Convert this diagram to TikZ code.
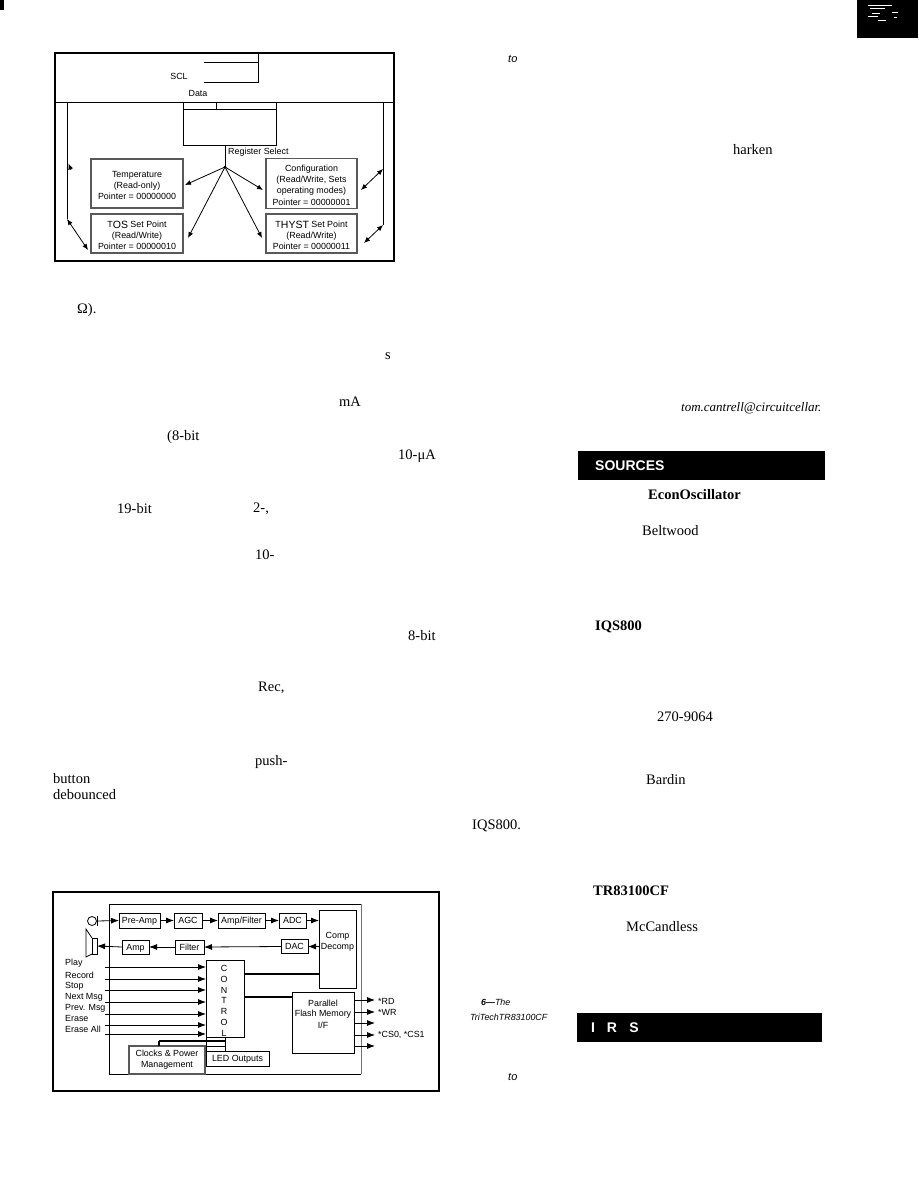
\documentclass[tikz,border=0pt]{standalone}
\usepackage{fontspec}
\setmainfont{Liberation Serif}
\setsansfont{Liberation Sans}
\usetikzlibrary{arrows.meta}
\newcommand{\sub}[1]{\raisebox{-1.5pt}{\fontsize{10.5}{11}\selectfont #1}}
\newcommand{\tb}[1]{\begin{tabular}{@{}c@{}}#1\end{tabular}}
\newcommand{\tbs}[1]{\begin{tabular}{@{}c@{}}\rule{0pt}{13pt}#1\end{tabular}}
\tikzset{
  x=1pt,y=-1pt,
  wire/.style={line width=0.8pt,black},
  thick wire/.style={line width=1.5pt,black},
  arr/.style={wire,-{Latex[length=6pt,width=5pt]}},
  arrfat/.style={wire,-{Latex[length=8pt,width=6pt]}},
  darr/.style={wire,{Latex[length=6pt,width=5pt]}-{Latex[length=6pt,width=5pt]}},
  frame/.style={draw,line width=2.8pt,black},
  lbl/.style={font=\sffamily\fontsize{8.9}{11.3}\selectfont,inner sep=0pt},
  lbll/.style={lbl,anchor=west},
  pbox/.style={lbl,draw=black,line width=1pt,inner sep=0pt,outer sep=0pt,text height=6.4pt,text depth=0.4pt},
  greybox/.style={lbl,draw=black!65,line width=1.1pt,inner sep=0pt,outer sep=0pt},
  body/.style={font=\fontsize{14.5}{15}\selectfont,inner sep=0pt,anchor=west},
  bodyb/.style={font=\bfseries\fontsize{14.5}{15}\selectfont,inner sep=0pt,anchor=west},
  capt/.style={font=\sffamily\itshape\fontsize{8.9}{11}\selectfont,inner sep=0pt,anchor=west},
  bar/.style={fill=black,draw=none},
  barlbl/.style={font=\sffamily\bfseries\fontsize{14}{15}\selectfont,text=white,inner sep=0pt},
}
\begin{document}
\begin{tikzpicture}
\useasboundingbox[fill=white] (0,0) rectangle (918,1188);
% page marks
\fill[black] (0,0) rectangle (4,10);
\fill[black] (857,0) rectangle (918,38);
\draw[white,line width=0.7pt] (868,5) -- (892,5);
\draw[white,line width=0.7pt] (870,8) -- (885,8);
\draw[white,line width=0.6pt] (872,13) -- (880,13);
\draw[white,line width=0.6pt] (892,12) -- (898,12);
\draw[white,line width=0.6pt] (868,16) -- (878,16);
\draw[white,line width=0.8pt] (894,17) -- (897,17);
\draw[white,line width=0.5pt] (878,20) -- (886,20);

%%%% Figure 5
\draw[frame] (55,53) rectangle (394,261);
\coordinate (sclTop) at (258,53);
\coordinate (sclA) at (204,62);
\coordinate (sclB) at (204,82.5);
\coordinate (sclEnd) at (258,82.5);
\draw[wire] (sclTop) -- (sclEnd) -- (sclB);
\draw[wire] (sclA) -- (sclA -| sclTop);
\node[lbl] (scl) at (179,76) {SCL};
\node[lbl] (data) at (198,93) {Data};
\coordinate (busL) at (55,102);
\coordinate (busR) at (394,102);
\draw[wire] (busL) -- (busR);
\node[draw=black,line width=0.8pt,minimum width=93pt,minimum height=43pt,inner sep=0pt,outer sep=0pt] (ptr) at (229.5,123.5) {};
\coordinate (ptrL) at (183,109);
\coordinate (ptrR) at (276,109);
\draw[wire] (ptrL) -- (ptrR);
\coordinate (tickT) at (216,102);
\draw[wire] (tickT) -- (tickT |- ptrL);
\coordinate (hub) at (225,167);
\draw[wire] (hub |- ptr.south) -- (hub);
\fill (hub) circle (1.5pt);
\node[lbll] (regsel) at (228,152) {Register Select};
\node[greybox,minimum width=92pt,minimum height=49pt] (temp) at (137,183.5) {\tbs{Temperature\\(Read-only)\\Pointer = 00000000}};
\node[greybox,minimum width=91pt,minimum height=47pt] (conf) at (311.5,183.5) {\tbs{Configuration\\(Read/Write, Sets\\operating modes)\\Pointer = 00000001}};
\node[greybox,minimum width=92pt,minimum height=37pt] (tos) at (137,233.5) {\tbs{T\sub{OS} Set Point\\(Read/Write)\\Pointer = 00000010}};
\node[greybox,minimum width=91pt,minimum height=37pt] (thyst) at (311.5,233.5) {\tbs{T\sub{HYST} Set Point\\(Read/Write)\\Pointer = 00000011}};
\draw[arr] (hub) -- (185,185);
\draw[arr] (hub) -- (188,238);
\draw[arr] (hub) -- (263,190);
\draw[arr] (hub) -- (262,238);
% side buses
\coordinate (lbus) at (67,102);
\coordinate (lbusE) at (67,219);
\coordinate (rbus) at (383,102);
\coordinate (rbusA) at (383,169);
\coordinate (rbusE) at (383,225);
\draw[wire] (lbus) -- (lbusE);
\draw[wire] (rbus) -- (rbusE);
\draw[darr] (lbusE) -- (88,250);
\draw[arr] (71,170) -- (68.5,163.5);
\draw[darr] (rbusA) -- (361,190);
\draw[darr] (rbusE) -- (364,243);

%%%% Figure 6
\draw[frame] (53,892) rectangle (439,1091);
\coordinate (fTL) at (109,904);
\coordinate (fTR) at (361,904);
\coordinate (fBL) at (109,1074);
\coordinate (fBR) at (361,1074);
\draw[wire] (fTL) -- (fTR);
\draw[wire] (fBL) -- (fBR);
\draw[wire] (fTL) -- (fBL);
\draw[wire,black!55] (fTR) -- (fBR);
% mic
\node[circle,draw=black,line width=0.8pt,minimum size=9pt,inner sep=0pt,outer sep=0pt] (mic) at (92,921) {};
\coordinate (micbarT) at (97,916);
\coordinate (micbarB) at (97,926);
\draw[wire] (mic.east) -- (97,921);
\draw[wire] (micbarT) -- (micbarB);
% speaker
\node[draw=black,line width=0.8pt,minimum width=5pt,minimum height=16pt,inner sep=0pt,outer sep=0pt] (spk) at (94.5,946) {};
\draw[wire] (spk.north west) -- (86,929) -- (86,957) -- (spk.south west);
% top row
\node[pbox,minimum width=41pt,minimum height=15pt] (pre) at (139.5,920.5) {Pre-Amp};
\node[pbox,minimum width=28pt,minimum height=15pt] (agc) at (188,920.5) {AGC};
\node[pbox,minimum width=47pt,minimum height=15pt] (ampf) at (241.5,920.5) {Amp/Filter};
\node[pbox,minimum width=27pt,minimum height=15pt] (adc) at (292.5,920.5) {ADC};
\node[pbox,minimum width=37pt,minimum height=78pt] (comp) at (337.5,949) {};
\node[lbl] (comptxt) at (337.5,941.5) {\tb{Comp\\Decomp}};
\draw[arrfat] (97,921) -- (pre.west);
\draw[arrfat] (pre.east) -- (agc.west);
\draw[arrfat] (agc.east) -- (ampf.west);
\draw[arrfat] (ampf.east) -- (adc.west);
\draw[arrfat] (adc.east) -- (adc.east -| comp.west);
% second row
\node[pbox,minimum width=27pt,minimum height=14pt] (amp) at (135.5,947) {Amp};
\node[pbox,minimum width=29pt,minimum height=14pt] (filt) at (189.5,947) {Filter};
\node[pbox,minimum width=27pt,minimum height=14pt] (dac) at (294.5,946.5) {DAC};
\draw[arrfat] (amp.west) -- (spk.east);
\draw[arrfat] (filt.west) -- (amp.east);
\draw[arrfat] (dac.west) -- (filt.east);
\draw[arrfat] (dac.east -| comp.west) -- (dac.east);
% control
\node[draw=black,line width=1pt,minimum width=38pt,minimum height=77pt,inner sep=0pt,outer sep=0pt] (ctl) at (225,998.5) {};
\foreach \nm/\ch/\yy in {c1/C/968,c2/O/979,c3/N/990,c4/T/1000,c5/R/1011,c6/O/1022,c7/L/1033}{
  \node[lbl] (\nm) at (224,\yy) {\ch};
}
% inputs
\foreach \nm/\tx/\ly/\ay in {play/Play/963/967,rec/Record/975/979,stp/Stop/986/990,nxt/Next Msg/997/1002,prv/Prev. Msg/1008/1014,ers/Erase/1018/1025,era/Erase All/1029/1034}{
  \node[lbll] (\nm) at (65,\ly) {\tx};
  \coordinate (\nm s) at (105,\ay);
  \draw[arrfat] (\nm s) -- (\nm s -| ctl.west);
}
% clocks, LED
\node[greybox,minimum width=76pt,minimum height=28pt] (clk) at (167,1060) {\tb{Clocks \& Power\\Management}};
\node[pbox,minimum width=63pt,minimum height=15pt] (led) at (237.5,1058.5) {LED Outputs};
\coordinate (clkA) at (159,1041);
\coordinate (clkB) at (225,1041);
\draw[thick wire] (clkA) -- (clkB);
\draw[thick wire] (clkA) -- (clkA |- clk.north);
\draw[wire] (ctl.south) -- (ctl.south |- led.north);
\draw[wire] (206,1037) -- (206,1051);
\draw[wire] (clkB) -- (clkB |- clk.north) -- (206,1046);
% parallel
\node[pbox,minimum width=62pt,minimum height=61pt] (par) at (323,1022.5) {};
\node[lbl] (partxt) at (323,1003) {Parallel};
\node[lbl] (flash) at (323,1014) {Flash Memory};
\node[lbl] (iface) at (323,1025) {I/F};
\coordinate (lineA) at (244,974);
\coordinate (lineB) at (244,997);
\draw[thick wire] (lineA) -- (lineA -| comp.west);
\draw[thick wire] (lineB) -- (lineB -| par.west);
% outputs
\foreach \nm/\ay in {oa/1000,ob/1012,oc/1023,od/1035,oe/1046}{
  \coordinate (\nm) at (354,\ay);
  \draw[arrfat] (\nm) -- ++(21,0);
}
\node[lbll] (rd) at (378,1001) {*RD};
\node[lbll] (wr) at (378,1012) {*WR};
\node[lbll] (cs) at (378,1035) {*CS0, *CS1};

%%%% stray text of the page
\node[capt,font=\sffamily\itshape\fontsize{11}{13}\selectfont] (t1) at (508,59) {to};
\node[body] (t2) at (733,150) {harken};
\node[body] (t3) at (77,310) {Ω).};
\node[body] (t4) at (385,356) {s};
\node[body,font=\itshape\fontsize{13}{15}\selectfont] (t5) at (681,408) {tom.cantrell@circuitcellar.};
\node[body] (t6) at (339,402) {mA};
\node[body] (t7) at (167,437) {(8-bit};
\node[body] (t8) at (398,456) {10-μA};
\node[body] (t9) at (117,509) {19-bit};
\node[body] (t10) at (253,509) {2-,};
\node[body] (t11) at (255,555) {10-};
\node[body] (t12) at (408,636) {8-bit};
\node[body] (t13) at (258,688) {Rec,};
\node[body] (t14) at (255,762) {push-};
\node[body] (t15) at (53,779) {button};
\node[body] (t16) at (53,795) {debounced};
\node[body] (t17) at (472,826) {IQS800.};
\node[capt] (t18) at (481,1002) {\bfseries 6—\mdseries The};
\node[capt] (t19) at (470,1017) {TriTechTR83100CF};
\node[capt,font=\sffamily\itshape\fontsize{11}{13}\selectfont] (t20) at (508,1077) {to};
% sources
\fill[bar] (578,451) rectangle (825,480);
\node[barlbl,anchor=west] (src) at (595,465.5) {SOURCES};
\node[bodyb] (s1) at (648,495) {EconOscillator};
\node[body] (s2) at (642,531) {Beltwood};
\node[bodyb] (s3) at (595,627) {IQS800};
\node[body] (s4) at (657,717) {270-9064};
\node[body] (s5) at (646,780) {Bardin};
\node[bodyb] (s6) at (593,891) {TR83100CF};
\node[body] (s7) at (626,927) {McCandless};
\fill[bar] (577,1013) rectangle (822,1042);
\node[barlbl] (ir1) at (593,1028) {I};
\node[barlbl] (ir2) at (612,1028) {R};
\node[barlbl] (ir3) at (634,1028) {S};
\end{tikzpicture}
\end{document}
